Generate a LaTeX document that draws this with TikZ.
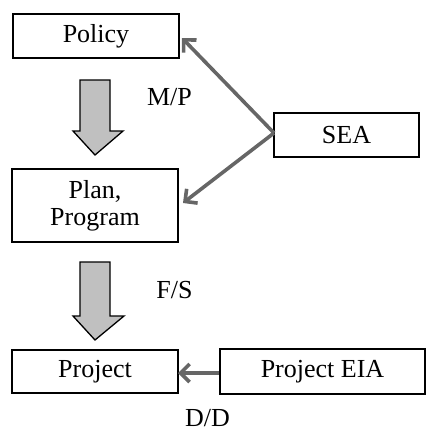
\documentclass[tikz,border=0pt]{standalone}
\usepackage{fontspec}
\setmainfont{Liberation Serif}
\usetikzlibrary{arrows.meta}
\definecolor{linkgray}{HTML}{666666}
\definecolor{bigfill}{HTML}{C0C0C0}
\begin{document}
\begin{tikzpicture}[x=1pt,y=-1pt,
  box/.style={draw=black,line width=1.6pt,inner sep=0pt,font=\fontsize{26}{27}\selectfont,align=center},
  link/.style={draw=linkgray,line width=3.6pt,-{Straight Barb[length=9pt,width=18pt,line width=3.6pt]}},
  bigarrow/.style={draw=black,line width=1.3pt,fill=bigfill,line join=miter},
  lbl/.style={font=\fontsize{26}{27}\selectfont,inner sep=0pt}]
\useasboundingbox (0,0) rectangle (426,432);
\node[box,minimum width=166pt,minimum height=44pt] (policy) at (96,36) {Policy};
\node[box,minimum width=145pt,minimum height=44pt] (sea) at (346.5,135) {SEA};
\node[box,minimum width=166pt,minimum height=73pt] (plan) at (95,205.5) {Plan,\\Program};
\node[box,minimum width=166pt,minimum height=43pt] (project) at (95,371.5) {Project};
\node[box,minimum width=205pt,minimum height=45pt] (eia) at (322.5,371.5) {Project EIA};
\coordinate (seaL) at (274,133);
\coordinate (polT) at (182,38);
\coordinate (planT) at (183,203);
\coordinate (projT) at (178,373);
\draw[link] (seaL) -- (polT);
\draw[link] (seaL) -- (planT);
\draw[link] (eia.west |- projT) -- (projT);
\draw[bigarrow] (80,80) -- (110,80) -- (110,131) -- (123,131) -- (95,155) -- (73,131) -- (80,131) -- cycle;
\draw[bigarrow] (80,262) -- (110,262) -- (110,316) -- (124,316) -- (95,340) -- (73,316) -- (80,316) -- cycle;
\node[lbl] (mp) at (169.5,97) {M/P};
\node[lbl] (fs) at (174.5,290) {F/S};
\node[lbl] (dd) at (207.5,418) {D/D};
\end{tikzpicture}
\end{document}
